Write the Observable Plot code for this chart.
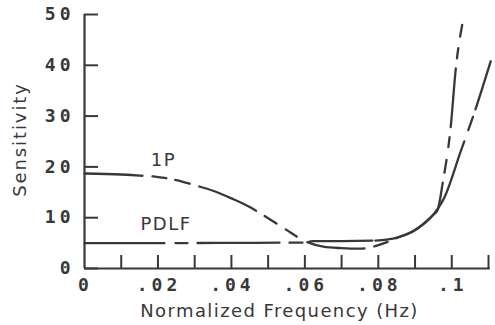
<!DOCTYPE html>
<html>
<head>
<meta charset="utf-8">
<script src="https://cdn.jsdelivr.net/npm/d3@7"></script>
<script src="https://cdn.jsdelivr.net/npm/@observablehq/plot@0.6"></script>
<style>
  html, body { margin: 0; padding: 0; background: #fff; }
  #chart svg { display: block; }
  #chart g[aria-label="y-axis tick label"], #chart g[aria-label="x-axis tick label"] { letter-spacing: 4px; }
</style>
</head>
<body>
<div id="chart"></div>
<script>
// Series: 1P
const freq1P = [0, 0.01, 0.015, 0.02, 0.025, 0.03, 0.035, 0.04, 0.045, 0.05, 0.055, 0.06, 0.065, 0.07, 0.075, 0.078, 0.082, 0.085, 0.09, 0.095, 0.098, 0.1025, 0.1056, 0.1106];
const sens1P = [18.7, 18.5, 18.3, 18.0, 17.4, 16.4, 15.3, 13.8, 12.1, 9.9, 7.6, 5.4, 4.3, 4.0, 3.9, 4.2, 5.1, 6.0, 7.6, 10.6, 14.0, 23.2, 29.5, 40.8];
// Series: PDLF
const freqPDLF = [0, 0.02, 0.04, 0.06, 0.062, 0.07, 0.079, 0.084, 0.09, 0.095, 0.0961, 0.0975, 0.0997, 0.1011, 0.1029];
const sensPDLF = [5.0, 5.0, 5.05, 5.1, 5.4, 5.4, 5.5, 5.9, 7.5, 10.6, 11.4, 16.7, 27.8, 39.4, 48.2];

// Ticks
const xMinorTicks = [0.01, 0.02, 0.03, 0.04, 0.05, 0.06, 0.07, 0.08, 0.09, 0.1, 0.11];
const xLabelTicks = [0, 0.02, 0.04, 0.06, 0.08, 0.1];
const xTickLabels = ["0", ".02", ".04", ".06", ".08", ".1"];
const yTicks = [0, 10, 20, 30, 40, 50];
const yTickLabels = ["0", "10", "20", "30", "40", "50"];

// Series labels
const seriesNames = ["1P", "PDLF"];
const seriesLabelX = [0.0215, 0.0222];
const seriesLabelY = [21.4, 8.8];

const xTitle = "Normalized Frequency (Hz)";
const yTitle = "Sensitivity";

const data1P = freq1P.map((f, i) => ({f, s: sens1P[i]}));
const dataPDLF = freqPDLF.map((f, i) => ({f, s: sensPDLF[i]}));
const labels = seriesNames.map((n, i) => ({n, x: seriesLabelX[i], y: seriesLabelY[i]}));

const ink = "#383838";
const monoFont = "'DejaVu Sans Mono', monospace";
const sansFont = "'DejaVu Sans', sans-serif";

const chart = Plot.plot({
  width: 495,
  height: 325,
  marginLeft: 84,
  marginRight: 7,
  marginTop: 14,
  marginBottom: 57,
  style: {background: "#fff", color: ink},
  x: {domain: [0, 0.11]},
  y: {domain: [0, 50]},
  marks: [
    // axis lines
    Plot.ruleX([0], {y1: 0, y2: 50, stroke: ink, strokeWidth: 2.2}),
    Plot.ruleY([0], {x1: 0, x2: 0.1105, stroke: ink, strokeWidth: 2.2}),
    // inward ticks
    Plot.axisY({ticks: yTicks, tickSize: -14, text: null, stroke: ink, strokeWidth: 2, label: null}),
    Plot.axisX({ticks: xMinorTicks, tickSize: -13, text: null, stroke: ink, strokeWidth: 2, label: null}),
    // tick labels
    Plot.axisY({ticks: yTicks, tickSize: 0, tickPadding: 10, tickFormat: (d, i) => yTickLabels[i],
      fontSize: 18, fontWeight: "bold", fontFamily: monoFont, fill: ink, label: null}),
    Plot.axisX({ticks: xLabelTicks, tickSize: 0, tickPadding: 10, tickFormat: (d, i) => xTickLabels[i],
      fontSize: 18, fontWeight: "bold", fontFamily: monoFont, fill: ink, label: null, dx: 1}),
    // axis titles
    Plot.text([xTitle], {frameAnchor: "bottom", textAnchor: "middle", lineAnchor: "middle",
      dx: -7, dy: 43, text: d => d,
      fontSize: 18, fontFamily: sansFont, fill: ink}),
    Plot.text([yTitle], {frameAnchor: "left", textAnchor: "middle", lineAnchor: "middle",
      dx: -64, dy: -2, rotate: -90, text: d => d,
      fontSize: 18, fontFamily: sansFont, fill: ink}),
    // curves
    Plot.line(data1P, {x: "f", y: "s", curve: "monotone-x", stroke: ink, strokeWidth: 2.3,
      strokeDasharray: "58,10,14,9,15,10,62,10,14,11,13,12,58,10,14,9,125,12,14,8,300"}),
    Plot.line(dataPDLF, {x: "f", y: "s", curve: "monotone-x", stroke: ink, strokeWidth: 2.3,
      strokeDasharray: "80,11,12,10,82,10,13,7,63,3,100,10,13,13,10,10,59,10,10,12,12,40"}),
    // series labels
    Plot.text(labels, {x: "x", y: "y", text: "n", fontSize: 18, fontFamily: sansFont, fill: ink})
  ]
});
// letter spacing for the titles and series labels
d3.select(chart).selectAll('g[aria-label="text"] text').each(function() {
  const t = this.textContent;
  this.style.letterSpacing = t === xTitle ? "1.4px" : t === yTitle ? "1.9px" : "1.5px";
});
document.getElementById("chart").appendChild(chart);
</script>
</body>
</html>
